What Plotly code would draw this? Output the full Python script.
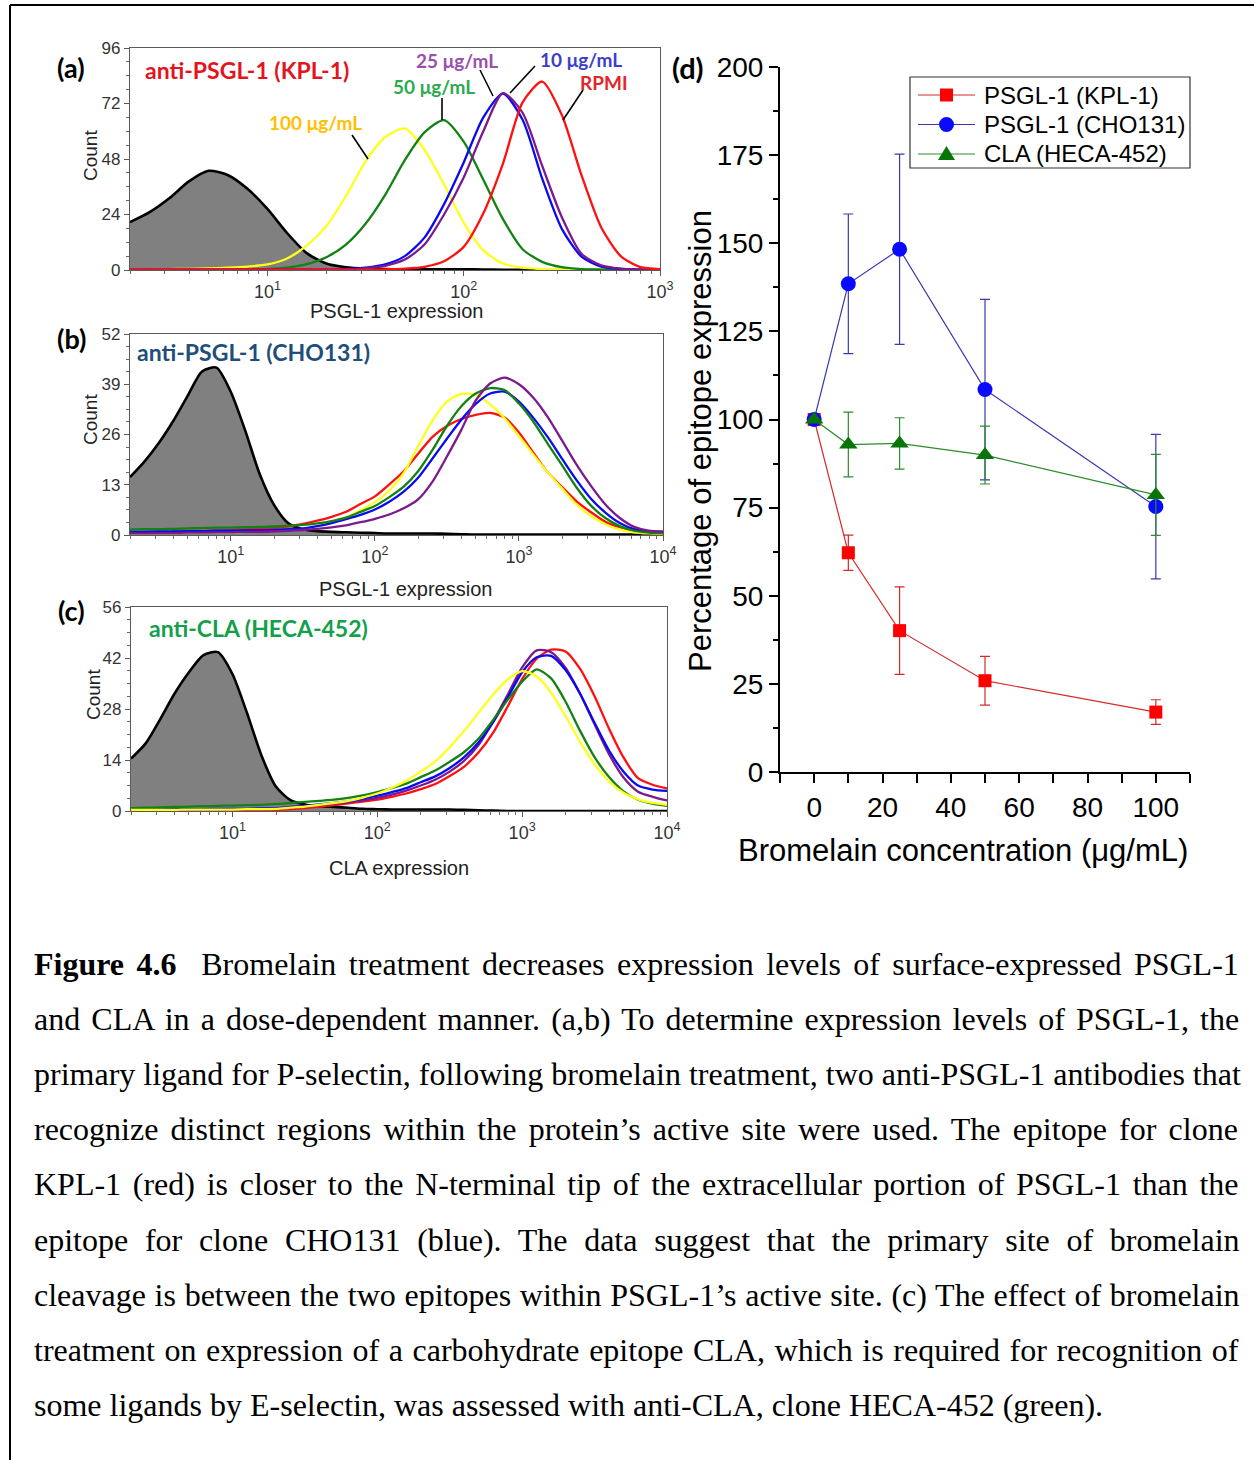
import plotly.graph_objects as go

# ---------------- DATA ----------------
# Panel (a): anti-PSGL-1 (KPL-1), log10 expression grid and counts
LOG_A = [0.3, 0.4, 0.5, 0.6, 0.7, 0.8, 0.9, 1.0, 1.1, 1.2, 1.3, 1.4, 1.5, 1.6,
         1.7, 1.8, 1.9, 2.0, 2.1, 2.2, 2.3, 2.4, 2.5, 2.6, 2.7, 2.8, 2.9, 3.0]
A_UNSTAINED = [20.7, 25.0, 31.0, 38.3, 42.9, 41.0, 35.0, 26.4, 16.0, 7.3, 2.8, 1.2, 0.6, 0.4,
               0.3, 0.3, 0.3, 0.3, 0.2, 0.1, 0.1, 0, 0, 0, 0, 0, 0, 0]
A_100 = [0.3, 0.3, 0.4, 0.5, 0.7, 1.0, 1.5, 2.4, 5.0, 10.5, 19.0, 32.0, 47.0, 57.5,
         61.2, 52.0, 37.0, 20.5, 8.5, 2.8, 1.0, 0.4, 0.2, 0.1, 0.1, 0.1, 0.1, 0.1]
A_50 = [0.2, 0.2, 0.2, 0.2, 0.2, 0.2, 0.2, 0.4, 1.0, 2.5, 5.5, 11.0, 20.0, 32.5,
        47.5, 59.5, 64.8, 55.5, 39.0, 22.0, 9.0, 3.5, 1.2, 0.4, 0.2, 0.1, 0.1, 0.1]
A_25 = [0.1, 0.1, 0.1, 0.1, 0.1, 0.1, 0.1, 0.1, 0.1, 0.1, 0.1, 0.1, 0.7, 1.8,
        4.5, 11.0, 24.0, 40.0, 60.0, 76.5, 68.0, 45.0, 22.8, 7.0, 2.0, 0.6, 0.2, 0.1]
A_10 = [0.1, 0.1, 0.1, 0.1, 0.1, 0.1, 0.1, 0.1, 0.1, 0.1, 0.1, 0.4, 1.0, 2.4,
        6.0, 14.0, 28.5, 46.5, 66.0, 76.3, 65.0, 39.5, 17.8, 5.8, 1.5, 0.5, 0.2, 0.1]
A_RPMI = [0.1, 0.1, 0.1, 0.1, 0.1, 0.1, 0.1, 0.1, 0.1, 0.1, 0.1, 0.1, 0.1, 0.3,
          0.6, 1.4, 3.8, 10.0, 24.5, 46.0, 72.5, 81.5, 67.0, 41.0, 18.5, 6.0, 1.2, 0.4]

# Panels (b) and (c): log10 expression grid
LOG_BC = [0.3, 0.4, 0.5, 0.6, 0.7, 0.8, 0.9, 1.0, 1.1, 1.2, 1.3, 1.4, 1.5, 1.6, 1.7, 1.8, 1.9,
          2.0, 2.1, 2.2, 2.3, 2.4, 2.5, 2.6, 2.7, 2.8, 2.9, 3.0, 3.1, 3.2, 3.3, 3.4, 3.5, 3.6,
          3.7, 3.8, 3.9, 4.0]
# Panel (b): anti-PSGL-1 (CHO131)
B_UNSTAINED = [15.0, 19.0, 23.8, 29.5, 36.0, 42.3, 43.3, 37.0, 27.0, 15.8, 7.8, 3.0, 1.5, 1.0,
               0.8, 0.7, 0.6, 0.5, 0.4, 0.4, 0.4, 0.4, 0.3, 0.2, 0.1, 0.1, 0.1, 0.1, 0.1, 0.1,
               0.1, 0.1, 0.1, 0.1, 0.1, 0.1, 0.1, 0.1]
B_RPMI = [0.5, 0.6, 0.7, 0.8, 0.9, 1.0, 1.1, 1.2, 1.4, 1.6, 1.8, 2.3, 2.9, 3.7, 4.7, 6.0, 8.0,
          10.0, 13.1, 16.5, 21.0, 25.4, 28.2, 30.0, 31.1, 31.6, 30.4, 26.5, 21.3, 16.2, 12.4,
          8.7, 5.9, 3.4, 2.0, 1.1, 0.8, 0.6]
B_10 = [0.8, 0.8, 0.9, 0.9, 1.0, 1.0, 1.1, 1.1, 1.2, 1.2, 1.3, 1.5, 1.7, 2.3, 3.1, 4.1, 5.2,
        6.6, 8.6, 11.2, 14.8, 19.8, 24.9, 29.8, 33.9, 36.6, 37.1, 34.5, 30.3, 25.3, 19.7,
        14.2, 9.4, 5.8, 3.1, 1.5, 0.9, 0.7]
B_25 = [0.4, 0.4, 0.5, 0.5, 0.6, 0.6, 0.7, 0.7, 0.8, 0.8, 0.9, 1.1, 1.3, 1.6, 2.0, 2.5, 3.3,
        4.2, 5.3, 6.9, 9.2, 13.8, 20.3, 27.2, 34.8, 39.2, 40.7, 39.0, 35.5, 30.5, 24.4,
        18.2, 12.7, 7.9, 4.4, 2.1, 1.1, 0.9]
B_50 = [1.4, 1.5, 1.5, 1.6, 1.7, 1.8, 1.9, 1.9, 2.0, 2.1, 2.2, 2.4, 2.6, 3.0, 3.6, 4.5, 6.0,
        7.5, 9.8, 12.5, 16.5, 22.0, 28.2, 33.3, 36.6, 38.0, 37.5, 34.0, 29.3, 23.6, 18.0,
        12.3, 7.6, 4.4, 2.3, 1.1, 0.6, 0.4]
B_100 = [0.4, 0.4, 0.5, 0.5, 0.6, 0.6, 0.7, 0.7, 0.8, 0.9, 1.0, 1.3, 1.6, 2.3, 3.3, 4.6, 6.4,
         8.5, 11.5, 16.0, 23.0, 29.6, 34.5, 36.5, 36.3, 33.8, 30.2, 25.6, 20.8, 16.2, 12.0,
         7.9, 4.9, 2.8, 1.4, 0.7, 0.4, 0.3]
# Panel (c): anti-CLA (HECA-452)
C_UNSTAINED = [14.4, 18.5, 25.1, 32.2, 38.1, 42.8, 43.6, 37.6, 27.0, 15.3, 6.7, 3.0, 1.8, 1.3,
               1.1, 0.9, 0.6, 0.5, 0.4, 0.4, 0.4, 0.4, 0.4, 0.3, 0.2, 0.1, 0, 0, 0, 0, 0, 0,
               0, 0, 0, 0, 0, 0]
C_RPMI = [0.2, 0.2, 0.2, 0.2, 0.2, 0.2, 0.3, 0.3, 0.3, 0.3, 0.3, 0.5, 0.8, 1.2, 1.6, 2.1, 2.6,
          3.1, 3.9, 4.8, 6.0, 7.4, 9.6, 12.2, 16.1, 21.5, 28.7, 36.2, 41.8, 44.3, 43.8, 39.0,
          31.5, 22.6, 14.7, 9.0, 7.2, 6.2]
C_10 = [0.4, 0.4, 0.4, 0.5, 0.5, 0.5, 0.6, 0.6, 0.6, 0.7, 0.8, 1.1, 1.4, 1.8, 2.2, 2.7, 3.4,
        4.2, 5.2, 6.3, 7.9, 9.5, 11.8, 14.8, 18.9, 24.4, 31.1, 38.1, 42.2, 42.6, 38.7, 32.2,
        24.2, 16.6, 10.8, 7.0, 5.9, 5.5]
C_25 = [0.3, 0.3, 0.3, 0.4, 0.4, 0.4, 0.4, 0.5, 0.5, 0.5, 0.6, 0.9, 1.2, 1.6, 2.0, 2.4, 2.9,
        3.6, 4.5, 5.6, 7.0, 8.6, 10.8, 13.8, 18.2, 24.6, 31.9, 39.4, 44.1, 43.6, 39.3, 32.2,
        23.8, 15.6, 9.2, 5.3, 3.9, 2.9]
C_50 = [0.8, 0.9, 1.0, 1.1, 1.2, 1.3, 1.4, 1.5, 1.6, 1.7, 1.9, 2.2, 2.5, 2.8, 3.1, 3.6, 4.3,
        5.2, 6.3, 7.5, 9.3, 11.1, 13.5, 16.2, 19.9, 25.0, 30.5, 35.5, 38.9, 36.4, 30.0, 22.0,
        14.8, 9.3, 5.4, 3.1, 2.0, 1.4]
C_100 = [0.3, 0.3, 0.3, 0.3, 0.4, 0.4, 0.4, 0.4, 0.5, 0.5, 0.6, 0.9, 1.2, 1.7, 2.2, 2.8, 3.7,
         4.8, 6.4, 8.3, 10.8, 13.6, 17.5, 22.0, 27.0, 32.0, 36.1, 38.4, 37.0, 32.5, 26.0, 19.0,
         12.8, 8.1, 5.0, 3.2, 2.2, 1.7]

# Panel (d): epitope expression vs bromelain concentration
CONC = [0, 10, 25, 50, 100]
KPL1 = [100, 62.2, 40.1, 25.9, 17.0]
KPL1_ERR = [0, 5.0, 12.4, 6.9, 3.5]
CHO131 = [100, 138.5, 148.3, 108.5, 75.3]
CHO131_ERR = [0, 19.8, 27.0, 25.6, 20.5]
HECA = [100, 92.9, 93.2, 89.9, 78.6]
HECA_ERR = [0, 9.2, 7.3, 8.2, 11.5]
SERIES_D = ["PSGL-1 (KPL-1)", "PSGL-1 (CHO131)", "CLA (HECA-452)"]

A_TICKS = [0, 24, 48, 72, 96]
B_TICKS = [0, 13, 26, 39, 52]
C_TICKS = [0, 14, 28, 42, 56]
DECADE_VALS = [10, 100, 1000, 10000]
DECADE_TEXT = ["10<sup>1</sup>", "10<sup>2</sup>", "10<sup>3</sup>", "10<sup>4</sup>"]

CAPTION = [
    "<b>Figure 4.6</b>  Bromelain treatment decreases expression levels of surface-expressed PSGL-1",
    "and CLA in a dose-dependent manner. (a,b) To determine expression levels of PSGL-1, the",
    "primary ligand for P-selectin, following bromelain treatment, two anti-PSGL-1 antibodies that",
    "recognize distinct regions within the protein’s active site were used. The epitope for clone",
    "KPL-1 (red) is closer to the N-terminal tip of the extracellular portion of PSGL-1 than the",
    "epitope for clone CHO131 (blue). The data suggest that the primary site of bromelain",
    "cleavage is between the two epitopes within PSGL-1’s active site. (c) The effect of bromelain",
    "treatment on expression of a carbohydrate epitope CLA, which is required for recognition of",
    "some ligands by E-selectin, was assessed with anti-CLA, clone HECA-452 (green).",
]
# approximate word spacing (px) to emulate the justified caption
CAPTION_SPACING = [4.4, 3.1, 0, 4.2, 3.7, 8.7, 0.7, 1.6, 0]

# ---------------- STYLE ----------------
W, H = 1254, 1460
COL = {"RPMI": "#FF1010", "10": "#0A0AF0", "25": "#7A1A8C", "50": "#128212", "100": "#FFFF1A"}
SANS = "Liberation Sans"
CAL = "Lato"


def px(x):
    return x / W


def py(y):
    return 1 - y / H


fig = go.Figure()


def add_panel(logs, unst, series, xa, ya):
    xs = [10 ** v for v in logs]
    fig.add_trace(go.Scatter(x=xs, y=unst, mode="lines", fill="tozeroy",
                             fillcolor="#808080",
                             line=dict(color="#000000", width=2.6, shape="spline", smoothing=0.7),
                             xaxis=xa, yaxis=ya, showlegend=False, hoverinfo="skip"))
    for key, ys in series:
        fig.add_trace(go.Scatter(x=xs, y=ys, mode="lines",
                                 line=dict(color=COL[key], width=2.3, shape="spline", smoothing=0.7),
                                 xaxis=xa, yaxis=ya, showlegend=False, hoverinfo="skip"))


add_panel(LOG_A, A_UNSTAINED, [("100", A_100), ("50", A_50), ("10", A_10), ("25", A_25),
                               ("RPMI", A_RPMI)], "x", "y")
add_panel(LOG_BC, B_UNSTAINED, [("RPMI", B_RPMI), ("100", B_100), ("10", B_10), ("50", B_50),
                                ("25", B_25)], "x2", "y2")
add_panel(LOG_BC, C_UNSTAINED, [("RPMI", C_RPMI), ("25", C_25), ("10", C_10), ("50", C_50),
                                ("100", C_100)], "x3", "y3")

# Panel (d)
D_STYLE = [("#D42A2A", "#FF0000", "square", 13),
           ("#3A3AB0", "#0A0AFF", "circle", 15),
           ("#2E8B2E", "#077507", "triangle-up", 16)]
for name, ys, err, (lcol, mcol, sym, size) in zip(SERIES_D, [KPL1, CHO131, HECA],
                                                  [KPL1_ERR, CHO131_ERR, HECA_ERR], D_STYLE):
    fig.add_trace(go.Scatter(x=CONC, y=ys, name=name, mode="lines+markers",
                             line=dict(color=lcol, width=1.2),
                             marker=dict(color=mcol, symbol=sym, size=size, line=dict(width=0)),
                             error_y=dict(type="data", array=err, color=lcol, thickness=1.2, width=5),
                             xaxis="x4", yaxis="y4", showlegend=False))

minor_log = [m * 10 ** e for e in range(0, 4) for m in range(2, 10)]


def hist_axes(dom_x, dom_y, xr, yticks, anchor_x, anchor_y):
    xax = dict(domain=dom_x, anchor=anchor_y, type="log", range=xr, showgrid=False,
               automargin=False,
               zeroline=False, showline=True, mirror=True, linecolor="#5a5a5a", linewidth=1.3,
               ticks="outside", ticklen=5, tickcolor="#5a5a5a", tickwidth=1.2,
               tickmode="array", tickvals=DECADE_VALS, ticktext=DECADE_TEXT,
               tickfont=dict(family=SANS, size=18, color="#333333"),
               minor=dict(ticks="outside", ticklen=3, tickcolor="#6a6a6a", tickmode="array",
                          tickvals=minor_log, showgrid=False))
    yax = dict(domain=dom_y, anchor=anchor_x, range=[yticks[0], yticks[-1]], showgrid=False,
               automargin=False,
               zeroline=False, showline=True, mirror=True, linecolor="#5a5a5a", linewidth=1.3,
               ticks="outside", ticklen=5, tickcolor="#5a5a5a", tickwidth=1.2,
               tickmode="array", tickvals=yticks,
               tickfont=dict(family=SANS, size=17, color="#333333"),
               minor=dict(ticks="outside", ticklen=3, tickcolor="#6a6a6a",
                          dtick=(yticks[1] - yticks[0]) / 4, showgrid=False))
    return xax, yax


xa, ya = hist_axes([px(130), px(660)], [py(270), py(48)], [0.3, 3.0], A_TICKS, "x", "y")
xb, yb = hist_axes([px(130), px(663)], [py(535), py(334)], [0.3, 4.0], B_TICKS, "x2", "y2")
xc, yc = hist_axes([px(131), px(667)], [py(811), py(607)], [0.3, 4.0], C_TICKS, "x3", "y3")

xd = dict(domain=[px(780), px(1190)], anchor="y4", range=[-10, 110], showgrid=False,
          automargin=False,
          zeroline=False, showline=True, linecolor="#000000", linewidth=2,
          ticks="outside", ticklen=9, tickwidth=2, tickcolor="#000000",
          tick0=0, dtick=20, tickfont=dict(family=SANS, size=28, color="#000000"),
          minor=dict(ticks="outside", ticklen=9, tickwidth=2, tickcolor="#000000", dtick=10,
                     tick0=0, showgrid=False))
yd = dict(domain=[py(772), py(67)], anchor="x4", range=[0, 200], showgrid=False,
          automargin=False,
          zeroline=False, showline=True, linecolor="#000000", linewidth=2,
          ticks="outside", ticklen=9, tickwidth=2, tickcolor="#000000",
          tick0=0, dtick=25, tickfont=dict(family=SANS, size=28, color="#000000"),
          minor=dict(ticks="outside", ticklen=5, tickwidth=2, tickcolor="#000000", dtick=12.5,
                     tick0=0, showgrid=False))

ann = []
shapes = []


def text(x, y, s, size, color="#000000", family=SANS, anchor="center", angle=0, bold=False):
    if bold:
        s = "<b>" + s + "</b>"
    ann.append(dict(x=px(x), y=py(y), xref="paper", yref="paper", text=s, showarrow=False,
                    xanchor=anchor, yanchor="middle", textangle=angle,
                    font=dict(family=family, size=size, color=color)))


def line(x0, y0, x1, y1, color="#000000", width=1.6):
    shapes.append(dict(type="line", xref="paper", yref="paper", x0=px(x0), y0=py(y0),
                       x1=px(x1), y1=py(y1), line=dict(color=color, width=width)))


# panel letters
for lab, x, y in [("(a)", 71, 67), ("(b)", 71, 338), ("(c)", 71, 610)]:
    text(x, y, lab, 27, family=CAL, bold=True)
text(688, 67, "(d)", 29, family=CAL, bold=True)

# histogram titles
text(143, 70, "anti-PSGL-1 (KPL-1)", 23, "#E3141E", CAL, "left", bold=True)
text(135, 352, "anti-PSGL-1 (CHO131)", 23, "#1F4E7A", CAL, "left", bold=True)
text(147, 628, "anti-CLA (HECA-452)", 23, "#14A04A", CAL, "left", bold=True)

# concentration labels
text(315, 122, "100 μg/mL", 19, "#FFC000", CAL, bold=True)
text(434, 87, "50 μg/mL", 19, "#2DAA4F", CAL, bold=True)
text(457, 61, "25 μg/mL", 19, "#9B4FAE", CAL, bold=True)
text(581, 60, "10 μg/mL", 19, "#3D3DCC", CAL, bold=True)
text(604, 82, "RPMI", 19, "#E3262B", CAL, bold=True)

# axis titles for histograms
text(396, 311, "PSGL-1 expression", 20, "#222222")
text(405, 589, "PSGL-1 expression", 20, "#222222")
text(399, 868, "CLA expression", 20, "#222222")
text(90, 156, "Count", 19, "#222222", angle=-90)
text(90, 420, "Count", 19, "#222222", angle=-90)
text(93, 695, "Count", 19, "#222222", angle=-90)

# panel (d) axis titles
text(700, 441, "Percentage of epitope expression", 31, angle=-90)
text(963, 850, "Bromelain concentration (μg/mL)", 31)

# panel (d) legend (drawn manually to match the compact box)
shapes.append(dict(type="rect", xref="paper", yref="paper", x0=px(910), y0=py(168),
                   x1=px(1190), y1=py(77), line=dict(color="#333333", width=1.2),
                   fillcolor="rgba(0,0,0,0)"))
for i, (name, (lcol, mcol, sym, size)) in enumerate(zip(SERIES_D, D_STYLE)):
    yy = 95 + i * 29.5
    line(918, yy, 975, yy, lcol, 1.2)
    if sym == "square":
        shapes.append(dict(type="rect", xref="paper", yref="paper", x0=px(940), y0=py(yy + 6.5),
                           x1=px(953), y1=py(yy - 6.5), line=dict(width=0), fillcolor=mcol))
    elif sym == "circle":
        shapes.append(dict(type="circle", xref="paper", yref="paper", x0=px(939), y0=py(yy + 7.5),
                           x1=px(954), y1=py(yy - 7.5), line=dict(width=0), fillcolor=mcol))
    else:
        path = "M {:.5f} {:.5f} L {:.5f} {:.5f} L {:.5f} {:.5f} Z".format(
            px(946.5), py(yy - 8), px(955), py(yy + 6), px(938), py(yy + 6))
        shapes.append(dict(type="path", xref="paper", yref="paper", path=path,
                           line=dict(width=0), fillcolor=mcol))
    text(982, yy, name, 24, anchor="left")

# caption
for i, (ln, sp) in enumerate(zip(CAPTION, CAPTION_SPACING)):
    s = '<span style="word-spacing:{}px">{}</span>'.format(sp, ln) if sp > 0 else ln
    text(32, 964 + i * 55.1, s, 32, family="Liberation Serif", anchor="left")

# leader lines and frame
for x0, y0, x1, y1 in [(352, 135, 368, 159), (442, 98, 442, 120), (480, 70, 493, 96),
                       (535, 66, 510, 93), (583, 90, 563, 120)]:
    line(x0, y0, x1, y1)
line(10, 1460, 10, 5, width=2)
line(10, 5, 1254, 5, width=2)

fig.update_layout(
    width=W, height=H, margin=dict(l=0, r=0, t=0, b=0, autoexpand=False),
    paper_bgcolor="#FFFFFF", plot_bgcolor="rgba(0,0,0,0)",
    xaxis=xa, yaxis=ya, xaxis2=xb, yaxis2=yb, xaxis3=xc, yaxis3=yc, xaxis4=xd, yaxis4=yd,
    annotations=ann, shapes=shapes, showlegend=False,
)

fig.write_html("out.html", config={"displayModeBar": False})
